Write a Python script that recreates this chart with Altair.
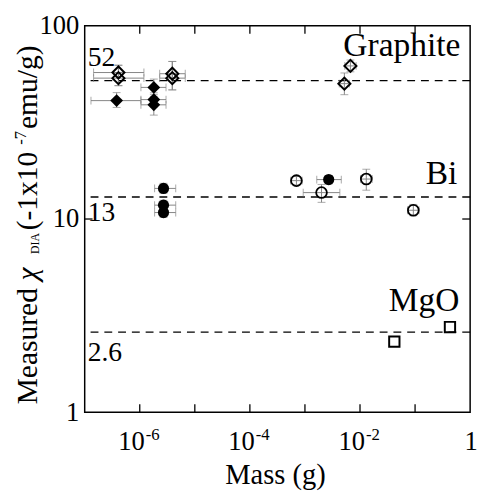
import altair as alt
import pandas as pd

FONT = "Liberation Serif"
W, H = 392, 393

# ---------------- data ----------------
# Graphite, filled diamonds
gf_x   = [3.8e-7, 1.8e-6, 1.8e-6, 1.8e-6]
gf_y   = [41.0, 48.0, 41.5, 39.0]
gf_xlo = [1.3e-7, 1.05e-6, 1.05e-6, 1.05e-6]
gf_xhi = [1.05e-6, 3.0e-6, 3.0e-6, 3.0e-6]
gf_ylo = [37.8, 44.0, 38.0, 34.5]
gf_yhi = [45.1, 53.0, 45.0, 43.0]

# Graphite, open diamonds
go_x   = [4.1e-7, 4.1e-7, 3.9e-6, 3.9e-6, 6.7e-3, 5.2e-3]
go_y   = [57.3, 53.6, 56.5, 53.6, 62.0, 50.2]
go_xlo = [1.45e-7, 1.45e-7, 2.3e-6, 2.3e-6, 5.3e-3, 4.2e-3]
go_xhi = [1.19e-6, 1.19e-6, 6.7e-6, 6.7e-6, 8.5e-3, 6.4e-3]
go_ylo = [49.0, 49.0, 46.6, 46.6, 57.8, 44.0]
go_yhi = [62.5, 62.5, 65.4, 65.4, 66.5, 57.0]

# Bi, filled circles
bf_x   = [2.7e-6, 2.7e-6, 2.7e-6, 2.7e-3]
bf_y   = [14.4, 11.8, 10.8, 16.0]
bf_xlo = [1.86e-6, 1.86e-6, 1.86e-6, 1.64e-3]
bf_xhi = [4.5e-6, 4.5e-6, 4.5e-6, 4.57e-3]
bf_ylo = [13.6, 11.1, 10.2, 15.2]
bf_yhi = [15.3, 12.5, 11.5, 16.8]

# Bi, open circles
bo_x   = [7.0e-4, 2.0e-3, 1.3e-2, 0.093]
bo_y   = [15.8, 13.7, 16.1, 11.1]
bo_xlo = [5.5e-4, 9.3e-4, 1.02e-2, 0.073]
bo_xhi = [8.9e-4, 4.3e-3, 1.66e-2, 0.118]
bo_ylo = [15.0, 12.2, 14.1, 10.4]
bo_yhi = [16.6, 15.1, 18.1, 11.9]

# MgO, open squares
mg_x = [0.042, 0.43]
mg_y = [2.32, 2.76]

# reference values (dashed lines)
ref_y = [52, 13, 2.6]
ref_labels = ["52", "13", "2.6"]

# axis ticks / labels
x_minor_ticks = [1e-6, 1e-5, 1e-4, 1e-3, 1e-2, 1e-1]
x_label_vals = [1e-6, 1e-4, 1e-2]
x_label_exps = ["-6", "-4", "-2"]
y_tick_vals = [10]
y_label_vals = [1, 10, 100]


def frame(x, y, xlo=None, xhi=None, ylo=None, yhi=None):
    d = {"x": x, "y": y}
    if xlo is not None:
        d.update({"xlo": xlo, "xhi": xhi, "ylo": ylo, "yhi": yhi})
    return pd.DataFrame(d)


df_gf = frame(gf_x, gf_y, gf_xlo, gf_xhi, gf_ylo, gf_yhi)
df_go = frame(go_x, go_y, go_xlo, go_xhi, go_ylo, go_yhi)
df_bf = frame(bf_x, bf_y, bf_xlo, bf_xhi, bf_ylo, bf_yhi)
df_bo = frame(bo_x, bo_y, bo_xlo, bo_xhi, bo_ylo, bo_yhi)
df_mg = frame(mg_x, mg_y)
df_err = pd.concat([df_gf, df_go, df_bf, df_bo], ignore_index=True)

xs = alt.Scale(type="log", domain=[1e-7, 1], nice=False)
ys = alt.Scale(type="log", domain=[1, 100], nice=False)
yaxis = alt.Axis(values=y_label_vals, labelExpr="datum.value + ''", ticks=False,
                 domain=False, grid=False, title=None, labelFont=FONT,
                 labelFontSize=27, labelColor="black", labelPadding=6,
                 labelFlush=False, labelOverlap=False, labelBound=False)


def X(f):
    return alt.X(f"{f}:Q", scale=xs, axis=None)


def Y(f):
    return alt.Y(f"{f}:Q", scale=ys, axis=yaxis)


GRAY = "#858585"

refs = alt.Chart(pd.DataFrame({"y": ref_y})).mark_rule(
    color="black", strokeDash=[8, 6], strokeWidth=1.3).encode(y=Y("y"))

eb = alt.Chart(df_err)
err_h = eb.mark_rule(color=GRAY, strokeWidth=1).encode(x=X("xlo"), x2="xhi", y=Y("y"))
err_v = eb.mark_rule(color=GRAY, strokeWidth=1).encode(x=X("x"), y=Y("ylo"), y2="yhi")
cap_l = eb.mark_tick(orient="vertical", size=8, thickness=1, color=GRAY).encode(x=X("xlo"), y=Y("y"))
cap_r = eb.mark_tick(orient="vertical", size=8, thickness=1, color=GRAY).encode(x=X("xhi"), y=Y("y"))
cap_b = eb.mark_tick(orient="horizontal", size=8, thickness=1, color=GRAY).encode(x=X("x"), y=Y("ylo"))
cap_t = eb.mark_tick(orient="horizontal", size=8, thickness=1, color=GRAY).encode(x=X("x"), y=Y("yhi"))

pts_gf = alt.Chart(df_gf).mark_point(shape="diamond", filled=True, color="black",
                                     size=169, opacity=1).encode(x=X("x"), y=Y("y"))
pts_go = alt.Chart(df_go).mark_point(shape="diamond", filled=False, color="black",
                                     size=150, strokeWidth=2, opacity=1).encode(x=X("x"), y=Y("y"))
pts_bf = alt.Chart(df_bf).mark_point(shape="circle", filled=True, color="black",
                                     size=130, opacity=1).encode(x=X("x"), y=Y("y"))
pts_bo = alt.Chart(df_bo).mark_point(shape="circle", filled=False, color="black",
                                     size=120, strokeWidth=1.8, opacity=1).encode(x=X("x"), y=Y("y"))
pts_mg = alt.Chart(df_mg).mark_point(shape="square", filled=False, color="black",
                                     size=110, strokeWidth=2, opacity=1).encode(x=X("x"), y=Y("y"))

# inward axis ticks
dxt = pd.DataFrame({"v": x_minor_ticks})
dyt = pd.DataFrame({"v": y_tick_vals})
tk = dict(color="black", strokeWidth=1.3)
tick_b = alt.Chart(dxt).mark_rule(**tk).encode(x=X("v"), y=alt.value(H), y2=alt.value(H - 8))
tick_t = alt.Chart(dxt).mark_rule(**tk).encode(x=X("v"), y=alt.value(0), y2=alt.value(8))
tick_l = alt.Chart(dyt).mark_rule(**tk).encode(y=Y("v"), x=alt.value(0), x2=alt.value(8))
tick_r = alt.Chart(dyt).mark_rule(**tk).encode(y=Y("v"), x=alt.value(W - 8), x2=alt.value(W))

# x tick labels: 10 with superscript exponent, and "1"
dxl = pd.DataFrame({"v": x_label_vals, "e": x_label_exps})
xl_base = alt.Chart(dxl).mark_text(font=FONT, fontSize=27, align="right", dx=5,
                                   baseline="alphabetic", color="black").encode(
    x=X("v"), y=alt.value(431), text=alt.value("10"))
xl_exp = alt.Chart(dxl).mark_text(font=FONT, fontSize=17, align="left", dx=6,
                                  baseline="alphabetic", color="black").encode(
    x=X("v"), y=alt.value(421), text="e:N")
xl_one = alt.Chart(pd.DataFrame({"v": [1]})).mark_text(
    font=FONT, fontSize=27, align="center", dx=1, baseline="alphabetic", color="black").encode(
    x=X("v"), y=alt.value(431), text=alt.value("1"))


def label(text, x, y, size, align="left", angle=0, style="normal"):
    return alt.Chart(pd.DataFrame({"t": [text]})).mark_text(
        font=FONT, fontSize=size, align=align, baseline="alphabetic", angle=angle,
        fontStyle=style, color="black").encode(
        x=alt.value(x), y=alt.value(y), text="t:N")


texts = [
    label(ref_labels[0], 3, 41, 28),
    label(ref_labels[1], 3, 199, 28),
    label(ref_labels[2], 3, 341, 28),
    label("Graphite", 382, 31, 34, align="right"),
    label("Bi", 379, 161, 34, align="right"),
    label("MgO", 381, 290, 34, align="right"),
    label("Mass (g)", 194, 466, 29, align="center"),
    # y-axis title pieces (rotated)
    label("Measured", -49, 385, 30, angle=270),
    label("\u03c7", -49, 259, 30, angle=270, style="italic"),
    label("DIA", -46, 232, 12, angle=270),
    label("(-1x10", -49, 208, 30, angle=270),
    label("-7", -60, 121, 17, angle=270),
    label("emu/g)", -49, 105, 30, angle=270),
]

chart = alt.layer(
    refs, err_h, err_v, cap_l, cap_r, cap_b, cap_t,
    pts_gf, pts_go, pts_bf, pts_bo, pts_mg,
    tick_b, tick_t, tick_l, tick_r,
    xl_base, xl_exp, xl_one, *texts
).properties(
    width=W, height=H,
    autosize=alt.AutoSizeParams(type="none"),
    padding={"left": 78, "top": 14, "right": 8, "bottom": 76},
    background="white",
).configure_view(stroke="black", strokeWidth=1.5)

chart.save("out.html", embed_options={"renderer": "svg", "actions": False})
